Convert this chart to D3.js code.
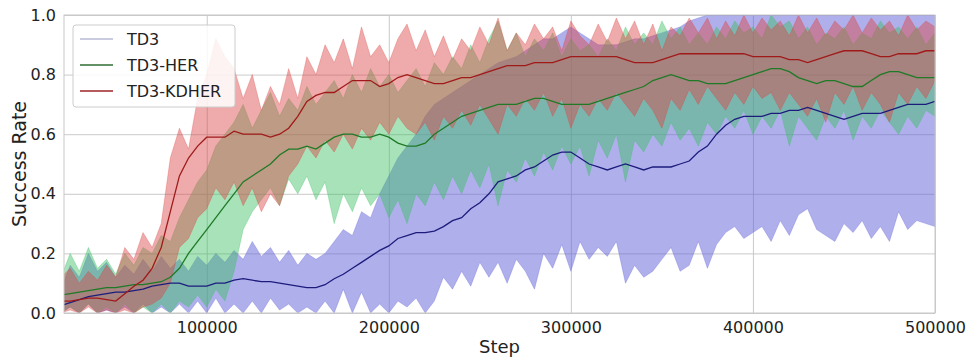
<!DOCTYPE html>
<meta charset="utf-8">
<style>
    body{ margin: 0; background: #fff; }
    text{ font-family: "DejaVu Sans", sans-serif; fill: #222; }
</style>
<script src="https://d3js.org/d3.v7.min.js"></script>

<div id="chart"></div>

<script>

    // x positions of the samples (training steps)
    const steps = [20000,25000,30000,35000,40000,45000,50000,55000,60000,65000,
        70000,75000,80000,85000,90000,95000,100000,105000,110000,115000,
        120000,125000,130000,135000,140000,145000,150000,155000,160000,165000,
        170000,175000,180000,185000,190000,195000,200000,205000,210000,215000,
        220000,225000,230000,235000,240000,245000,250000,255000,260000,265000,
        270000,275000,280000,285000,290000,295000,300000,305000,310000,315000,
        320000,325000,330000,335000,340000,345000,350000,355000,360000,365000,
        370000,375000,380000,385000,390000,395000,400000,405000,410000,415000,
        420000,425000,430000,435000,440000,445000,450000,455000,460000,465000,
        470000,475000,480000,485000,490000,495000,500000];

    // TD3
    const td3Mean = [0.025,0.035,0.045,0.055,0.06,0.065,0.07,0.07,0.075,0.08,
        0.09,0.095,0.10,0.10,0.09,0.09,0.09,0.10,0.10,0.11,
        0.115,0.11,0.105,0.105,0.10,0.095,0.09,0.085,0.085,0.095,
        0.115,0.13,0.15,0.17,0.19,0.21,0.225,0.25,0.26,0.27,
        0.27,0.275,0.29,0.31,0.32,0.35,0.37,0.40,0.44,0.45,
        0.46,0.48,0.49,0.51,0.53,0.54,0.54,0.52,0.50,0.49,
        0.48,0.49,0.50,0.49,0.48,0.49,0.49,0.49,0.50,0.51,
        0.54,0.56,0.60,0.63,0.65,0.66,0.66,0.66,0.67,0.67,
        0.68,0.68,0.69,0.68,0.67,0.66,0.65,0.66,0.67,0.67,
        0.67,0.68,0.69,0.70,0.70,0.70,0.71];
    const td3Upper = [0.08,0.16,0.12,0.20,0.14,0.17,0.12,0.16,0.13,0.18,
        0.14,0.19,0.15,0.18,0.14,0.19,0.16,0.20,0.17,0.21,
        0.18,0.24,0.19,0.22,0.17,0.21,0.16,0.20,0.18,0.20,
        0.24,0.28,0.26,0.34,0.32,0.40,0.46,0.52,0.56,0.60,
        0.66,0.70,0.72,0.74,0.76,0.78,0.80,0.82,0.84,0.85,
        0.86,0.88,0.90,0.92,0.92,0.94,0.96,0.94,0.92,0.90,
        0.90,0.90,0.91,0.92,0.92,0.93,0.94,0.95,0.96,0.98,
        0.99,1,1,1,1,1,1,1,1,1,
        1,1,1,1,1,1,1,1,1,1,
        1,1,1,1,1,1,1];
    const td3Lower = [0.0,0.02,0.0,0.03,0.0,0.01,0.0,0.02,0.0,0.03,
        0.0,0.02,0.0,0.03,0.0,0.04,0.0,0.05,0.0,0.03,
        0.0,0.04,0.0,0.05,0.01,0.03,0.0,0.02,0.0,0.04,
        0.0,0.08,0.0,0.07,0.0,0.03,0.0,0.04,0.02,0.05,
        0.0,0.04,0.12,0.08,0.14,0.09,0.17,0.12,0.17,0.10,
        0.18,0.14,0.08,0.20,0.15,0.23,0.14,0.24,0.18,0.22,
        0.19,0.24,0.10,0.16,0.12,0.14,0.18,0.22,0.14,0.16,
        0.24,0.15,0.23,0.27,0.29,0.25,0.27,0.29,0.24,0.31,
        0.26,0.33,0.35,0.28,0.26,0.24,0.30,0.27,0.31,0.25,
        0.29,0.24,0.34,0.28,0.31,0.30,0.29];

    // TD3-HER
    const herMean = [0.06,0.065,0.07,0.075,0.08,0.085,0.085,0.09,0.095,0.095,
        0.10,0.105,0.12,0.15,0.20,0.24,0.28,0.32,0.36,0.40,
        0.44,0.46,0.48,0.50,0.53,0.55,0.55,0.56,0.55,0.57,
        0.59,0.60,0.60,0.59,0.59,0.60,0.59,0.57,0.56,0.56,
        0.57,0.60,0.62,0.64,0.66,0.67,0.68,0.69,0.70,0.70,
        0.70,0.71,0.72,0.72,0.71,0.70,0.70,0.70,0.70,0.71,
        0.72,0.73,0.74,0.75,0.76,0.78,0.79,0.80,0.79,0.78,
        0.78,0.77,0.77,0.77,0.78,0.79,0.80,0.81,0.82,0.82,
        0.81,0.79,0.78,0.77,0.78,0.78,0.77,0.76,0.76,0.78,
        0.80,0.81,0.81,0.80,0.79,0.79,0.79];
    const herUpper = [0.12,0.20,0.14,0.22,0.15,0.18,0.13,0.20,0.16,0.22,
        0.20,0.26,0.24,0.32,0.38,0.44,0.48,0.56,0.60,0.64,
        0.70,0.62,0.68,0.74,0.66,0.72,0.68,0.76,0.70,0.74,
        0.78,0.72,0.80,0.74,0.82,0.76,0.80,0.74,0.78,0.82,
        0.76,0.84,0.80,0.86,0.82,0.90,0.84,0.92,0.98,0.88,
        0.94,0.86,0.92,0.88,0.94,0.86,0.92,0.88,0.90,0.86,
        0.92,0.88,0.96,0.90,0.94,0.90,0.98,0.92,0.96,0.90,
        0.94,0.90,0.96,0.92,0.98,0.94,0.96,0.92,1.0,0.96,
        0.98,0.92,0.96,0.90,0.94,0.92,0.96,0.90,0.94,0.92,
        0.98,0.94,0.96,0.92,0.96,0.90,0.94];
    const herLower = [0.0,0.02,0.0,0.03,0.0,0.02,0.0,0.03,0.0,0.02,
        0.0,0.03,0.0,0.04,0.02,0.06,0.02,0.08,0.04,0.14,
        0.28,0.34,0.38,0.42,0.36,0.45,0.40,0.46,0.38,0.44,
        0.30,0.40,0.34,0.42,0.36,0.40,0.32,0.38,0.30,0.40,
        0.36,0.44,0.38,0.46,0.40,0.48,0.42,0.50,0.36,0.48,
        0.44,0.52,0.46,0.54,0.48,0.56,0.50,0.56,0.46,0.58,
        0.52,0.60,0.44,0.58,0.54,0.60,0.56,0.64,0.58,0.62,
        0.56,0.64,0.60,0.66,0.62,0.68,0.60,0.66,0.62,0.68,
        0.56,0.66,0.62,0.58,0.66,0.62,0.68,0.58,0.66,0.62,
        0.68,0.64,0.60,0.66,0.62,0.68,0.66];

    // TD3-KDHER
    const kdherMean = [0.04,0.04,0.045,0.05,0.05,0.045,0.04,0.065,0.09,0.11,
        0.15,0.22,0.34,0.46,0.52,0.56,0.59,0.59,0.59,0.61,
        0.60,0.60,0.60,0.59,0.60,0.62,0.66,0.71,0.73,0.74,
        0.74,0.76,0.78,0.78,0.78,0.76,0.77,0.79,0.80,0.79,
        0.78,0.77,0.77,0.78,0.79,0.79,0.80,0.81,0.82,0.83,
        0.83,0.83,0.84,0.84,0.84,0.85,0.86,0.86,0.86,0.86,
        0.86,0.86,0.85,0.84,0.84,0.84,0.85,0.86,0.87,0.87,
        0.87,0.87,0.87,0.87,0.87,0.87,0.86,0.86,0.86,0.86,
        0.85,0.85,0.84,0.85,0.86,0.87,0.88,0.88,0.88,0.87,
        0.86,0.86,0.87,0.87,0.87,0.88,0.88];
    const kdherUpper = [0.12,0.15,0.10,0.14,0.11,0.16,0.12,0.22,0.18,0.27,
        0.22,0.30,0.52,0.62,0.55,0.72,0.80,0.92,0.86,0.82,
        0.72,0.80,0.68,0.76,0.70,0.82,0.72,0.86,0.80,0.90,
        0.84,0.92,0.82,0.96,0.86,0.90,0.84,0.92,0.97,0.88,
        0.95,0.86,0.93,0.85,0.92,0.88,0.96,0.90,0.99,0.88,
        0.94,0.90,0.97,0.92,0.96,0.88,0.98,0.93,0.90,0.97,
        0.91,0.99,0.92,0.98,0.90,0.97,0.88,0.96,0.93,0.99,
        0.94,0.99,0.92,0.98,0.93,1.0,0.94,0.99,0.95,0.98,
        0.93,1.0,0.94,0.99,0.93,0.98,0.95,1.0,0.94,0.99,
        0.95,0.98,0.93,1.0,0.95,0.98,0.96];
    const kdherLower = [0.0,0.01,0.0,0.02,0.0,0.01,0.0,0.01,0.0,0.02,
        0.03,0.05,0.10,0.22,0.25,0.32,0.35,0.42,0.38,0.44,
        0.36,0.42,0.34,0.40,0.36,0.46,0.50,0.56,0.52,0.58,
        0.54,0.60,0.55,0.62,0.58,0.64,0.60,0.66,0.62,0.60,
        0.64,0.58,0.66,0.62,0.68,0.63,0.70,0.65,0.60,0.70,
        0.66,0.72,0.68,0.74,0.66,0.72,0.62,0.70,0.66,0.72,
        0.68,0.74,0.70,0.66,0.72,0.68,0.62,0.72,0.68,0.75,
        0.70,0.76,0.72,0.68,0.74,0.70,0.76,0.72,0.74,0.68,
        0.74,0.70,0.66,0.72,0.64,0.74,0.70,0.76,0.68,0.74,
        0.70,0.64,0.74,0.70,0.76,0.72,0.78];

    const seriesNames = ["TD3", "TD3-HER", "TD3-KDHER"];
    const xTicks = [100000, 200000, 300000, 400000, 500000];
    const yTicks = [0.0, 0.2, 0.4, 0.6, 0.8, 1.0];

    // set the dimensions and margins of the graph
    const margin = {top: 15, right: 34, bottom: 46, left: 64},
        width = 969 - margin.left - margin.right,
        height = 359 - margin.top - margin.bottom;

    const svg = d3.select("#chart")
      .append("svg")
        .attr("width", width + margin.left + margin.right)
        .attr("height", height + margin.top + margin.bottom)
      .append("g")
        .attr("transform", `translate(${margin.left},${margin.top})`);

    const x = d3.scaleLinear().domain([21600, 500000]).range([0, width]);
    const y = d3.scaleLinear().domain([0, 1]).range([height, 0]);

    // grid
    svg.append("g")
        .attr("transform", `translate(0,${height})`)
        .call(d3.axisBottom(x).tickValues(xTicks).tickSize(-height).tickFormat(""))
        .call(g => g.select(".domain").remove())
        .selectAll("line").attr("stroke", "#c4c4c4").attr("stroke-width", 0.9);
    svg.append("g")
        .call(d3.axisLeft(y).tickValues(yTicks).tickSize(-width).tickFormat(""))
        .call(g => g.select(".domain").remove())
        .selectAll("line").attr("stroke", "#c4c4c4").attr("stroke-width", 0.9);

    svg.append("clipPath").attr("id", "clip")
      .append("rect").attr("width", width).attr("height", height);

    const plot = svg.append("g").attr("clip-path", "url(#clip)");

    const series = [
        {name: seriesNames[0], mean: td3Mean, lo: td3Lower, hi: td3Upper, band: "#6060da", op: 0.5, line: "#1c1c7c"},
        {name: seriesNames[1], mean: herMean, lo: herLower, hi: herUpper, band: "#3cbf64", op: 0.45, line: "#1f7a26"},
        {name: seriesNames[2], mean: kdherMean, lo: kdherLower, hi: kdherUpper, band: "#dc4444", op: 0.45, line: "#a01a1a"}
    ];

    const area = d3.area()
        .x((d, i) => x(steps[i]))
        .y0(d => y(d[0]))
        .y1(d => y(d[1]));

    const line = d3.line()
        .x((d, i) => x(steps[i]))
        .y(d => y(d));

    series.forEach(s => {
        plot.append("path")
          .datum(s.lo.map((v, i) => [v, s.hi[i]]))
            .attr("d", area)
            .attr("fill", s.band)
            .attr("fill-opacity", s.op)
            .attr("stroke", s.band)
            .attr("stroke-opacity", 0.5)
            .attr("stroke-width", 0.6);
    });
    series.forEach(s => {
        plot.append("path")
          .datum(s.mean)
            .attr("d", line)
            .attr("fill", "none")
            .attr("stroke", s.line)
            .attr("stroke-width", 1.3);
    });

    // frame
    svg.append("rect")
        .attr("width", width).attr("height", height)
        .attr("fill", "none").attr("stroke", "#c8c8c8").attr("stroke-width", 1);

    // axes
    svg.append("g")
        .attr("transform", `translate(0,${height})`)
        .call(d3.axisBottom(x).tickValues(xTicks).tickFormat(d3.format("d")).tickSize(0).tickPadding(9))
        .call(g => g.select(".domain").remove())
        .selectAll("text").style("font-size", "16px").attr("fill", "#222");
    svg.append("g")
        .call(d3.axisLeft(y).tickValues(yTicks).tickFormat(d3.format(".1f")).tickSize(0).tickPadding(8))
        .call(g => g.select(".domain").remove())
        .selectAll("text").style("font-size", "16px").attr("fill", "#222");

    svg.append("text")
        .attr("x", width / 2).attr("y", height + 40)
        .attr("text-anchor", "middle")
        .style("font-size", "18px")
        .text("Step");
    svg.append("text")
        .attr("transform", `translate(${-38},${height / 2}) rotate(-90)`)
        .attr("text-anchor", "middle")
        .style("font-size", "19px")
        .text("Success Rate");

    // legend
    const legend = svg.append("g").attr("transform", "translate(9,10)");
    legend.append("rect")
        .attr("width", 162).attr("height", 82).attr("rx", 3)
        .attr("fill", "#fff").attr("fill-opacity", 0.85)
        .attr("stroke", "#cccccc");
    const legendColors = ["#b9b9d6", "#2f6e34", "#9c2424"];
    seriesNames.forEach((n, i) => {
        legend.append("line")
            .attr("x1", 7).attr("x2", 40)
            .attr("y1", 14 + i * 26).attr("y2", 14 + i * 26)
            .attr("stroke", legendColors[i]).attr("stroke-width", 1.5);
        legend.append("text")
            .attr("x", 54).attr("y", 14 + i * 26)
            .attr("dy", "0.36em")
            .style("font-size", "16px")
            .text(n);
    });

</script>
